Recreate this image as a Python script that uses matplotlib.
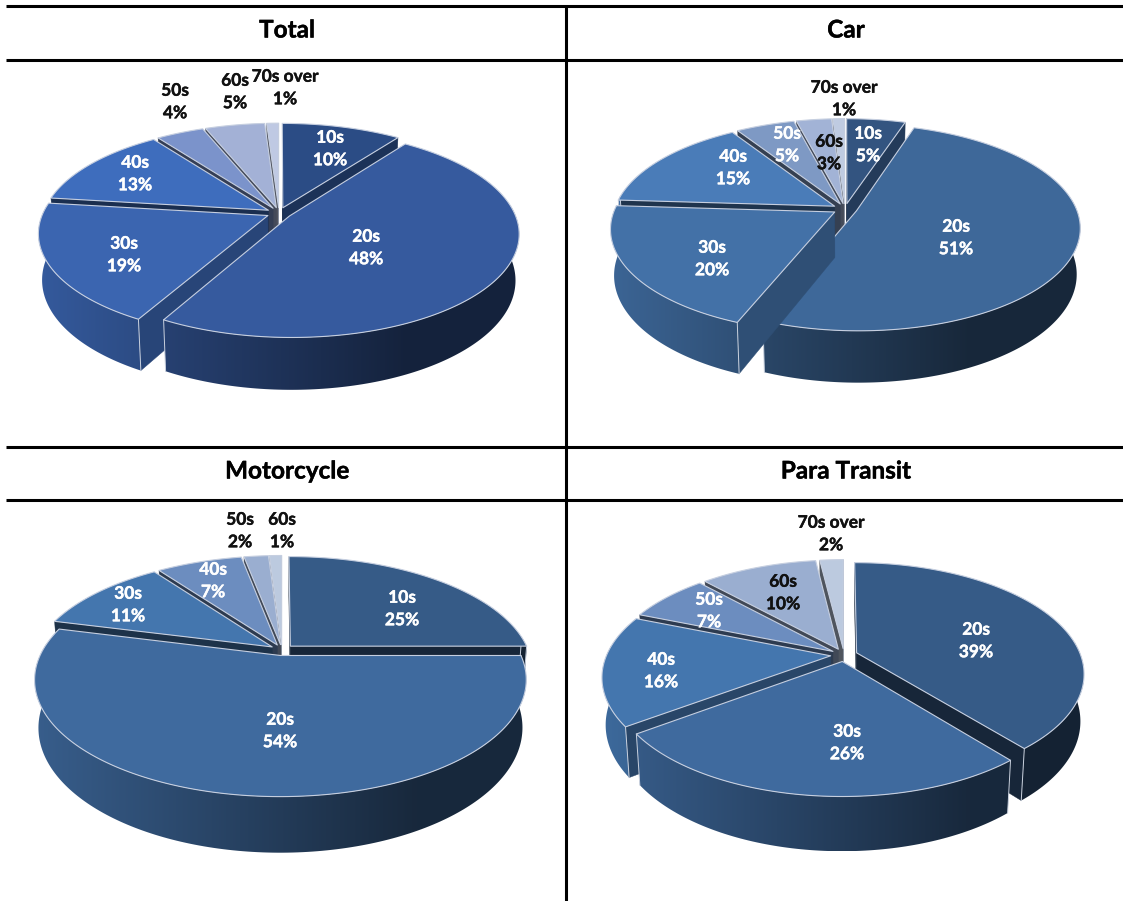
#!/usr/bin/env python3
"""Four exploded pseudo-3D pies of age shares by transport mode, in a ruled grid."""

import matplotlib
matplotlib.use("Agg")
import matplotlib.pyplot as plt
import matplotlib.patheffects as pe
import numpy as np
from matplotlib.colors import to_rgb
from matplotlib.patches import Polygon

W, H = 1123, 901

TITLES = ["Total", "Car", "Motorcycle", "Para Transit"]

total_ages = ["10s", "20s", "30s", "40s", "50s", "60s", "70s over"]
total_vals = [10, 48, 19, 13, 4, 5, 1]
car_ages = ["10s", "20s", "30s", "40s", "50s", "60s", "70s over"]
car_vals = [5, 51, 20, 15, 5, 3, 1]
moto_ages = ["10s", "20s", "30s", "40s", "50s", "60s"]
moto_vals = [25, 54, 11, 7, 2, 1]
para_ages = ["20s", "30s", "40s", "50s", "60s", "70s over"]
para_vals = [39, 26, 16, 7, 10, 2]

total_colors = ["#2b4c85", "#365a9e", "#3b65b0", "#3e6dbd", "#7b93cb", "#a3b1d6", "#bfc9e3"]
car_colors = ["#335480", "#3e6899", "#4371a7", "#4a7cb8", "#7e99c4", "#a2b3d6", "#bfcbe1"]
moto_colors = ["#365b87", "#3f6a9e", "#4476ae", "#6c8dbf", "#9aaed0", "#bccadf"]
para_colors = ["#365b87", "#3f6a9e", "#4476ae", "#6c8dbf", "#9aaed0", "#bccadf"]

# cx, cy, radius, squash, perspective, depth, explode
total_geom = (279, 213, 225, 0.445, 0.167, 46, 0.055)
car_geom = (845, 209, 220, 0.455, 0.16, 46, 0.055)
moto_geom = (282, 650, 238, 0.46, 0.206, 47, 0.05)
para_geom = (844, 655, 224, 0.48, 0.184, 47, 0.06)

total_label_xy = [(330, 149), (366, 248), (124, 255), (135, 174), (175, 102), (235, 92), (285, 88)]
car_label_xy = [(868, 145), (956, 238), (712, 259), (733, 168), (787, 145), (829, 153), (844, 99)]
moto_label_xy = [(402, 609), (280, 731), (128, 605), (213, 581), (240, 531), (282, 531)]
para_label_xy = [(976, 641), (847, 743), (661, 671), (709, 611), (783, 593), (831, 534)]
total_dark = ["50s", "60s", "70s over"]
car_dark = ["60s", "70s over"]
moto_dark = ["50s", "60s"]
para_dark = ["60s", "70s over"]

plt.rcParams["font.family"] = ["Lato", "DejaVu Sans"]


def project(u, v, z, geom):
    cx, cy, r, squash, persp, depth, _ = geom
    s = 1.0 / (1.0 + persp * v + 0.015 * z)
    return cx + r * u * s, cy - r * squash * v * s + depth * z * s


def wall_shade(x, geom):
    t = (x - (geom[0] - geom[2])) / (2 * geom[2])
    return np.clip(0.87 - 0.625 * t, 0.38, 0.95)


def draw_gradient(ax, poly_xy, color, geom, z):
    # horizontal light-to-dark wall shading, clipped to the wall outline
    x0, x1 = poly_xy[:, 0].min(), poly_xy[:, 0].max()
    y0, y1 = poly_xy[:, 1].min(), poly_xy[:, 1].max()
    xs = np.linspace(x0, x1, 128)
    rgb = np.outer(wall_shade(xs, geom), np.array(to_rgb(color)))[None, :, :]
    im = ax.imshow(rgb, extent=(x0, x1, y1, y0), aspect="auto", zorder=z, interpolation="bilinear")
    patch = Polygon(poly_xy, closed=True, transform=ax.transData, fc="none", ec="none")
    ax.add_patch(patch)
    im.set_clip_path(patch)


def draw_pie(ax, vals, colors, geom, base_z):
    vals = np.asarray(vals, dtype=float)
    edges = np.deg2rad(np.concatenate([[0], np.cumsum(vals)]) / vals.sum() * 360)
    mids = (edges[:-1] + edges[1:]) / 2
    order = np.argsort(-np.cos(mids))
    ex = geom[6]
    z = base_z
    for i in order:
        t0, t1 = edges[i], edges[i + 1]
        ou, ov = ex * np.sin(mids[i]), ex * np.cos(mids[i])
        th = np.linspace(t0, t1, max(8, int((t1 - t0) * 60)))
        u = ou + np.sin(th)
        v = ov + np.cos(th)
        color = colors[i]
        base = np.array(to_rgb(color))

        # radial cut faces that look towards the viewer
        for ang, sign in ((t0, -1), (t1, 1)):
            nu, nv = sign * np.cos(ang), -sign * np.sin(ang)
            if nv >= 0.02:
                continue
            a = project(np.array([ou, ou + np.sin(ang)]), np.array([ov, ov + np.cos(ang)]), 0, geom)
            b = project(np.array([ou, ou + np.sin(ang)]), np.array([ov, ov + np.cos(ang)]), 1, geom)
            pts = np.array([[a[0][0], a[1][0]], [a[0][1], a[1][1]], [b[0][1], b[1][1]], [b[0][0], b[1][0]]])
            shade = 0.42 + 0.3 * max(nu, 0)
            ax.add_patch(Polygon(pts, closed=True, fc=base * shade, ec=base * shade, lw=0.3, zorder=z))
            z += 1

        # outer wall on the near half
        near = np.cos(th) < 0.1
        if near.sum() > 1:
            xa, ya = project(u[near], v[near], 0, geom)
            xb, yb = project(u[near], v[near], 1, geom)
            wall = np.vstack([np.column_stack([xa, ya]), np.column_stack([xb, yb])[::-1]])
            draw_gradient(ax, wall, color, geom, z)
            z += 1
            # light seam at the ends of the wall
            for k in (0, -1):
                ax.plot([xa[k], xb[k]], [ya[k], yb[k]], color="#c9d1de", lw=0.7, zorder=z)

        # top face
        tu = np.concatenate([[ou], u])
        tv = np.concatenate([[ov], v])
        px, py = project(tu, tv, 0, geom)
        ax.add_patch(Polygon(np.column_stack([px, py]), closed=True, fc=color, ec="#c6cfe0",
                             lw=0.8, zorder=z + 1, joinstyle="round"))
        z += 2
    return z


def main():
    fig = plt.figure(figsize=(W / 100, H / 100), dpi=100)
    ax = fig.add_axes([0, 0, 1, 1])

    panels = [
        (total_ages, total_vals, total_colors, total_geom, total_label_xy, total_dark),
        (car_ages, car_vals, car_colors, car_geom, car_label_xy, car_dark),
        (moto_ages, moto_vals, moto_colors, moto_geom, moto_label_xy, moto_dark),
        (para_ages, para_vals, para_colors, para_geom, para_label_xy, para_dark),
    ]
    z = 2
    for ages, vals, colors, geom, label_xy, dark in panels:
        z = draw_pie(ax, vals, colors, geom, z)
        for age, val, (x, y) in zip(ages, vals, label_xy):
            col = "#111111" if age in dark else "white"
            ax.text(x, y, f"{age}\n{val}%", ha="center", va="center", fontsize=12.5, fontweight="bold",
                    color=col, linespacing=1.5, zorder=5000,
                    path_effects=[pe.withStroke(linewidth=0.3, foreground=col)])

    # table rules
    for y in (6, 60, 447, 500):
        ax.plot([6, W], [y, y], color="black", lw=2.2, zorder=6000, solid_capstyle="butt")
    ax.plot([566, 566], [6, 901], color="black", lw=2.2, zorder=6000, solid_capstyle="butt")
    title_xy = [(287, 30), (846, 30), (287, 471), (846, 471)]
    for title, (x, y) in zip(TITLES, title_xy):
        ax.text(x, y, title, ha="center", va="center", fontsize=17.5, fontweight="bold", color="black",
                path_effects=[pe.withStroke(linewidth=0.3, foreground="black")])

    ax.set_xlim(0, W)
    ax.set_ylim(H, 0)
    ax.axis("off")
    fig.savefig("out.png", dpi=100, facecolor="white")
    plt.close(fig)


if __name__ == "__main__":
    main()
